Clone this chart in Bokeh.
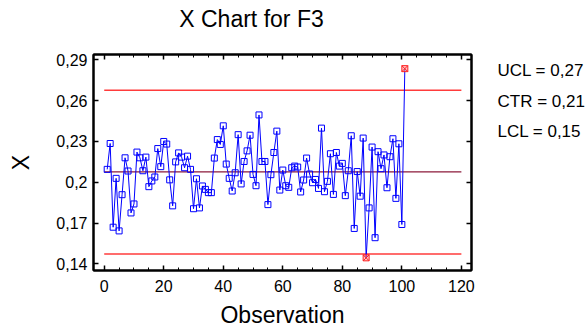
from bokeh.plotting import figure
from bokeh.models import Range1d, LinearAxis, FixedTicker, CustomJSTickFormatter
from bokeh.layouts import row, column
from bokeh.core.properties import value
from bokeh.embed import file_html
from bokeh.resources import INLINE

observation = list(range(1, 102))
x_values = [
    0.2095, 0.2285, 0.1670, 0.2029, 0.1643, 0.1909, 0.2180, 0.2083, 0.1775, 0.1841,
    0.2222, 0.2180, 0.2085, 0.2185, 0.1968, 0.2010, 0.2039, 0.2248, 0.2115, 0.2300,
    0.2281, 0.2018, 0.1827, 0.2150, 0.2216, 0.2185, 0.2107, 0.2192, 0.2095, 0.1806,
    0.2026, 0.1812, 0.1973, 0.1948, 0.1924, 0.1924, 0.2178, 0.2314, 0.2278, 0.2415,
    0.2134, 0.2029, 0.1936, 0.2070, 0.2350, 0.1988, 0.2153, 0.2231, 0.2346, 0.2058,
    0.1975, 0.2495, 0.2153, 0.2153, 0.1836, 0.2056, 0.2219, 0.2376, 0.1943, 0.2090,
    0.1975, 0.1963, 0.2107, 0.2119, 0.2112, 0.1929, 0.2017, 0.2178, 0.2061, 0.1997,
    0.2021, 0.1955, 0.2398, 0.1931, 0.2007, 0.2210, 0.1911, 0.2219, 0.2119, 0.2139,
    0.1902, 0.2085, 0.2342, 0.1661, 0.2079, 0.1898, 0.2325, 0.1445, 0.1812, 0.2259,
    0.1593, 0.2225, 0.2100, 0.2201, 0.1960, 0.2188, 0.2320, 0.1882, 0.2283, 0.1690,
    0.2835,
]
ucl, ctr, lcl = 0.2676, 0.2076, 0.1474
limit_span = [0, 120]
x_ticks = [0, 20, 40, 60, 80, 100, 120]
x_minor = list(range(0, 121, 5))
y_ticks = [0.14, 0.17, 0.20, 0.23, 0.26, 0.29]
title_text = "X Chart for F3"

FONT = "Liberation Sans"
LEFT, FW, FH, RIGHT = 93, 378, 216, 4
TITLE_H = 42
TOP = 54 - TITLE_H
BOTTOM = 330 - 54 - FH


def blank(fig):
    fig.outline_line_color = None
    fig.xgrid.visible = False
    fig.ygrid.visible = False
    fig.background_fill_color = "white"
    fig.border_fill_color = "white"


# ---- title strip (pixel-mapped) ----
tfig = figure(
    frame_width=FW, frame_height=TITLE_H,
    min_border_left=LEFT, min_border_right=RIGHT, min_border_top=0, min_border_bottom=0,
    x_range=Range1d(LEFT, LEFT + FW), y_range=Range1d(TITLE_H, 0),
    x_axis_location=None, y_axis_location=None,
    output_backend="svg", toolbar_location=None,
)
blank(tfig)
tfig.text(x=[251], y=[18.5], text=[title_text], text_font=value(FONT),
          text_font_size=value("23px"), text_color="black",
          text_baseline="middle", text_align="center")

# ---- main chart ----
p = figure(
    frame_width=FW, frame_height=FH,
    min_border_left=LEFT, min_border_right=RIGHT, min_border_top=TOP, min_border_bottom=BOTTOM,
    x_range=Range1d(-3.6, 123.4), y_range=Range1d(0.1352, 0.2939),
    output_backend="svg", toolbar_location=None,
)
p.background_fill_color = "white"
p.border_fill_color = "white"
p.outline_line_color = "black"
p.outline_line_width = 2
p.xgrid.visible = False
p.ygrid.visible = False

fmt = CustomJSTickFormatter(code="return String(Math.round(tick*100)/100).replace('.', ',');")


def style_axis(ax, ticker, labels=True):
    ax.ticker = ticker
    ax.axis_line_color = "black"
    ax.axis_line_width = 2
    ax.major_tick_in = 5
    ax.major_tick_out = 0
    ax.minor_tick_in = 3
    ax.minor_tick_out = 0
    ax.major_tick_line_color = "black"
    ax.minor_tick_line_color = "black"
    ax.major_tick_line_width = 1.5
    ax.minor_tick_line_width = 1
    if labels:
        ax.major_label_text_font = FONT
        ax.major_label_text_font_size = "16px"
        ax.major_label_text_color = "black"
        ax.axis_label_text_font = FONT
        ax.axis_label_text_font_size = "23px"
        ax.axis_label_text_font_style = "normal"
        ax.axis_label_text_color = "black"
    else:
        ax.major_label_text_font_size = "0px"
        ax.major_label_standoff = 0


style_axis(p.xaxis[0], FixedTicker(ticks=x_ticks, minor_ticks=x_minor))
p.xaxis[0].axis_label = "Observation"
p.xaxis[0].major_label_standoff = 9
p.xaxis[0].axis_label_standoff = 7

style_axis(p.yaxis[0], FixedTicker(ticks=y_ticks, minor_ticks=[]))
p.yaxis[0].formatter = fmt
p.yaxis[0].axis_label = "X"
p.yaxis[0].major_label_standoff = 6
p.yaxis[0].axis_label_standoff = 19

top = LinearAxis()
style_axis(top, FixedTicker(ticks=x_ticks, minor_ticks=x_minor), labels=False)
p.add_layout(top, "above")
right = LinearAxis()
style_axis(right, FixedTicker(ticks=y_ticks, minor_ticks=[]), labels=False)
p.add_layout(right, "right")

# control limits
p.line(limit_span, [ucl, ucl], line_color="#ff3b3b", line_width=1.5)
p.line(limit_span, [lcl, lcl], line_color="#ff3b3b", line_width=1.5)
p.line(limit_span, [ctr, ctr], line_color="#8b1a3a", line_width=1.2)

# data
inside_x = [o for o, v in zip(observation, x_values) if lcl <= v <= ucl]
inside_y = [v for v in x_values if lcl <= v <= ucl]
out_x = [o for o, v in zip(observation, x_values) if not (lcl <= v <= ucl)]
out_y = [v for v in x_values if not (lcl <= v <= ucl)]

p.line(observation, x_values, line_color="#0000ff", line_width=1)
p.scatter(inside_x, inside_y, marker="square", size=6, line_color="#0000ff",
          fill_color="white", fill_alpha=0.0, line_width=1)
p.scatter(out_x, out_y, marker="square_x", size=6, line_color="#ff2020",
          fill_color="#ff9090", fill_alpha=0.5, line_width=1)


def fmt_val(v):
    return ("%.2f" % v).replace(".", ",")


# ---- side panel with the control-limit summary (pixel-mapped, frame-aligned) ----
side_w = 587 - (LEFT + FW + RIGHT)
side = figure(
    frame_width=side_w, frame_height=FH,
    min_border_left=0, min_border_right=0, min_border_top=TOP, min_border_bottom=BOTTOM,
    x_range=Range1d(0, side_w), y_range=Range1d(FH, 0),
    x_axis_location=None, y_axis_location=None,
    output_backend="svg", toolbar_location=None,
)
blank(side)
label_texts = ["UCL = %s" % fmt_val(ucl), "CTR = %s" % fmt_val(ctr), "LCL = %s" % fmt_val(lcl)]
label_x = [22, 22, 22]
label_y = [16, 47, 77]
side.text(x=label_x, y=label_y, text=label_texts, text_font=value(FONT),
          text_font_size=value("17px"), text_color="black", text_baseline="middle",
          text_align="left")

layout = column(tfig, row(p, side, spacing=0), spacing=0)
open("out.html", "w").write(file_html(layout, INLINE))
